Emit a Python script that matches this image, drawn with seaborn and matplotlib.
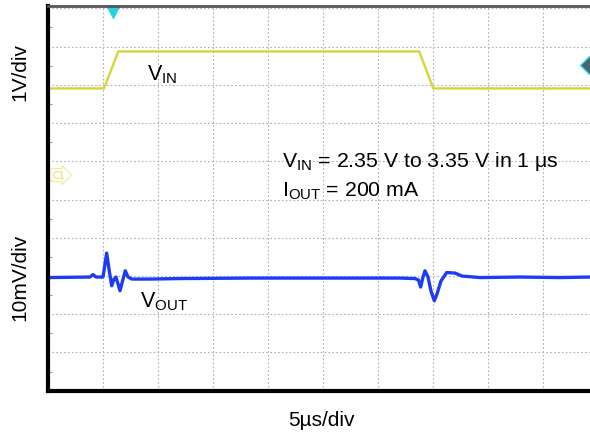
import numpy as np
import pandas as pd
import matplotlib
matplotlib.use("Agg")
import matplotlib.pyplot as plt
import seaborn as sns

# ---- data (screen divisions: x = 5 us/div, y = graticule divisions) ----
vin_t = [0.0, 1.018, 1.278, 6.75, 7.005, 9.855]
vin_y = [7.906, 7.906, 8.873, 8.873, 7.906, 7.906]

vout_t = [0.0, 0.764, 0.818, 0.873, 1.0, 1.067, 1.109, 1.158, 1.2, 1.236,
          1.273, 1.309, 1.355, 1.405, 1.455, 1.527, 1.855, 2.4, 3.673,
          4.582, 5.491, 6.4, 6.673, 6.736, 6.776, 6.818, 6.855, 6.909,
          6.964, 7.024, 7.073, 7.145, 7.249, 7.4, 7.527, 7.855, 8.582,
          9.309, 9.855]
vout_y = [2.959, 2.973, 3.038, 2.973, 2.973, 3.6, 3.182, 2.745, 2.92, 2.973,
          2.79, 2.614, 2.868, 3.137, 2.973, 2.92, 2.92, 2.933, 2.946,
          2.946, 2.946, 2.946, 2.933, 2.894, 2.711, 2.973, 3.137, 2.973,
          2.607, 2.353, 2.528, 2.868, 3.09, 3.077, 2.999, 2.959, 2.973,
          2.959, 2.973]

x_label = "5\u00b5s/div"
y_label_top = "1V/div"
y_label_bot = "10mV/div"
note_1 = r"V$_{\mathregular{IN}}$ = 2.35 V to 3.35 V in 1 $\mathregular{\mu}$s"
note_2 = r"I$_{\mathregular{OUT}}$ = 200 mA"

df_vin = pd.DataFrame({"t": vin_t, "v": vin_y})
df_vout = pd.DataFrame({"t": vout_t, "v": vout_y})

sns.set_theme(style="white")
plt.rcParams["font.family"] = ["Liberation Sans", "DejaVu Sans"]
plt.rcParams["mathtext.fontset"] = "custom"
plt.rcParams["mathtext.rm"] = "Liberation Sans"
plt.rcParams["mathtext.it"] = "Liberation Sans:italic"
plt.rcParams["text.color"] = "black"

fig = plt.figure(figsize=(5.9, 4.35), dpi=100)
ax = fig.add_axes([48 / 590, (435 - 391.7) / 435, (590 - 48) / 590, (391.7 - 6.7) / 435])
ax.set_xlim(0, 9.855)
ax.set_ylim(0, 10.07)

# graticule
ax.set_xticks(np.arange(0, 10, 1))
ax.set_yticks(np.arange(0, 11, 1))
ax.set_yticks(np.arange(0.5, 10, 1), minor=True)
ax.grid(True, which="major", color="#b0b0b0", linestyle=(0, (1.5, 2)), linewidth=0.8)
ax.tick_params(axis="both", which="major", length=0, labelleft=False, labelbottom=False)
ax.tick_params(axis="y", which="minor", direction="in", length=3, width=0.8,
               color="#999999", left=True)

for s in ["left", "bottom"]:
    ax.spines[s].set_color("black")
    ax.spines[s].set_linewidth(3)
ax.spines["top"].set_color("#555555")
ax.spines["top"].set_linewidth(2)
ax.spines["right"].set_visible(False)

sns.lineplot(data=df_vin, x="t", y="v", ax=ax, sort=False, estimator=None,
             color="#d6d43a", linewidth=1.7)
sns.lineplot(data=df_vout, x="t", y="v", ax=ax, sort=False, estimator=None,
             color="#1f3cf5", linewidth=2.4)
ax.set_xlabel("")
ax.set_ylabel("")

# trace labels
ax.text(1.805, 8.15, r"V$_{\mathregular{IN}}$", fontsize=15.5, ha="left", va="baseline",
        color="black")
ax.text(1.673, 2.207, r"V$_{\mathregular{OUT}}$", fontsize=15.5, ha="left", va="baseline",
        color="black")
ax.text(4.255, 5.866, note_1, fontsize=15.3, ha="left", va="baseline", color="black")
ax.text(4.255, 5.098, note_2, fontsize=15.3, ha="left", va="baseline", color="black")

# scope markers
ax.plot([1.176], [9.90], marker="v", color="#22d4e4", markersize=8, clip_on=False,
        linestyle="none")
ax.plot([9.83], [8.523], marker="D", markerfacecolor="#4a6470", markeredgecolor="#30e0f0",
        markersize=9, clip_on=False, linestyle="none")
ax.text(0.08, 5.64, "C1", fontsize=7, color="#e0d860", ha="left", va="center",
        bbox=dict(boxstyle="rarrow,pad=0.15", fc="white", ec="#f0ec90", lw=0.8))

# axis labels
fig.text(20 / 590, 1 - 72 / 435, y_label_top, rotation=90, fontsize=15,
         ha="center", va="center", color="black")
fig.text(20 / 590, 1 - 277 / 435, y_label_bot, rotation=90, fontsize=15,
         ha="center", va="center", color="black")
fig.text(321 / 590, 1 - 421 / 435, x_label, fontsize=15, ha="center", va="center",
         color="black")

fig.savefig("out.png", dpi=100)
